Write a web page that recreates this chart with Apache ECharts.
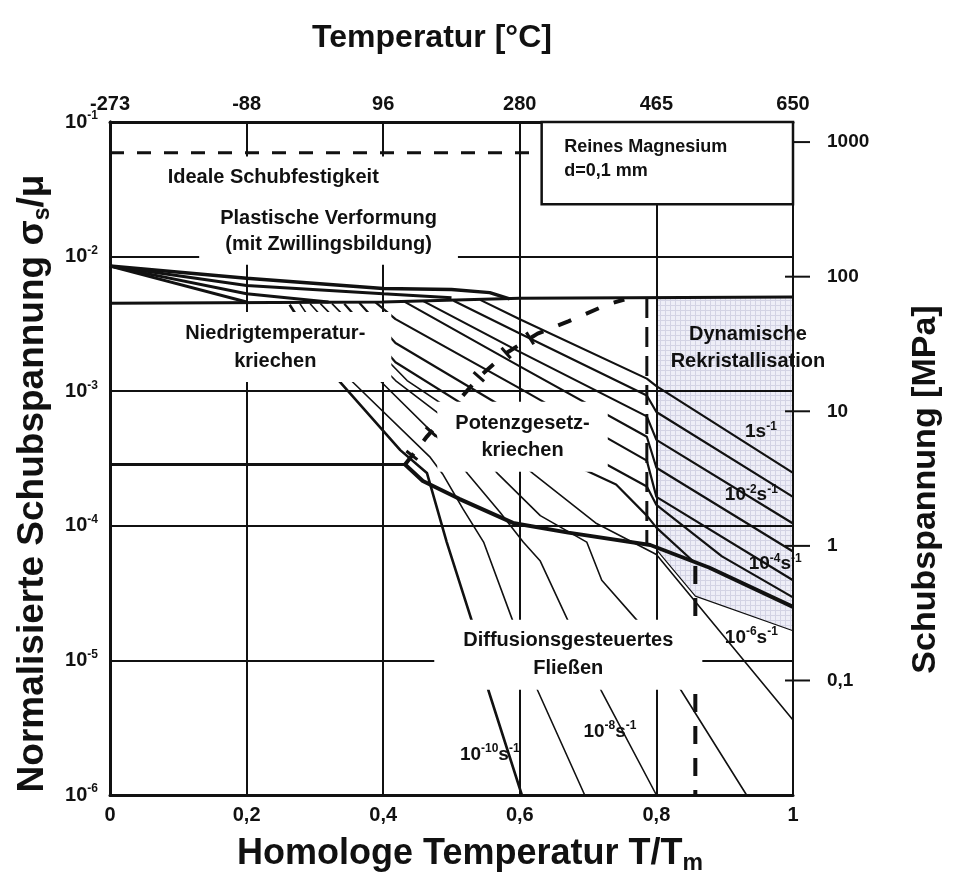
<!DOCTYPE html>
<html>
<head>
<meta charset="utf-8">
<script src="https://cdn.jsdelivr.net/npm/echarts@6/dist/echarts.min.js"></script>
<style>
  html, body { margin: 0; padding: 0; background: #fff; }
  #chart { width: 963px; height: 879px; }
</style>
</head>
<body>
<div id="chart"></div>
<script>
// Deformation mechanism map of pure magnesium (grain size 0.1 mm)
// x: homologous temperature T/Tm, y: normalised shear stress sigma_s/mu

// ---- tick labels ----
const TOP_TICK_LABELS = ['-273', '-88', '96', '280', '465', '650'];
const BOTTOM_TICK_LABELS = ['0', '0,2', '0,4', '0,6', '0,8', '1'];
const MPA_TICKS = [1000, 100, 10, 1, 0.1];
const SHEAR_MODULUS_MPA = 14100;

// ---- field boundaries ----
const idealStrength = [[0, 5.9e-2], [0.632, 5.9e-2]];
const plasticLimit = [[0, 4.5e-3], [0.4, 4.6e-3], [0.6, 4.9e-3], [1, 5.0e-3]];
const lowTempLimit = [[0, 2.85e-4], [0.432, 2.85e-4]];
const lowTempToPowerLaw = [[0.432, 2.85e-4], [0.464, 4.6e-4], [0.542, 1.3e-3], [0.581, 1.93e-3],
  [0.626, 2.68e-3], [0.671, 3.3e-3], [0.728, 4.4e-3], [0.753, 4.8e-3]];
const boundaryCrossings = [[0.442, 3.34e-4], [0.47, 5.0e-4], [0.54, 1.28e-3], [0.58, 1.92e-3], [0.615, 2.47e-3]];
const powerLawToDiffusion = [[0.432, 2.85e-4], [0.458, 2.15e-4], [0.512, 1.58e-4], [0.59, 1.05e-4],
  [0.671, 8.9e-5], [0.791, 7.2e-5], [0.877, 4.9e-5], [1, 2.5e-5]];
const drxLimitUpper = [[0.786, 4.93e-3], [0.786, 7.1e-5]];
const drxLimitLower = [[0.857, 5.03e-5], [0.857, 1.0e-6]];
const drxLowerEdge = [[0.8, 6.65e-5], [0.857, 3.0e-5], [1, 1.66e-5]];
const drxRegion = [[0.8, 4.95e-3], [1, 5.0e-3], [1, 1.66e-5], [0.857, 3.0e-5], [0.8, 6.65e-5]];
const materialBox = [[0.632, 0.1], [1, 0.1], [1, 2.45e-2], [0.632, 2.45e-2]];

// ---- strain-rate contours in the plasticity field ----
const plastic1 = [[0, 8.5e-3], [0.2, 6.9e-3], [0.4, 5.8e-3], [0.5, 5.7e-3], [0.556, 5.4e-3], [0.585, 4.85e-3]];
const plastic2 = [[0, 8.5e-3], [0.2, 6.1e-3], [0.4, 5.3e-3], [0.5, 4.95e-3]];
const plastic3 = [[0, 8.5e-3], [0.2, 5.3e-3], [0.32, 4.6e-3]];
const plastic4 = [[0, 8.5e-3], [0.2, 4.6e-3]];

// ---- strain-rate contours through creep and recrystallisation fields ----
const rateK1 = [[0.542, 4.77e-3], [0.6, 3.43e-3], [0.786, 1.24e-3], [0.8, 1.09e-3], [1, 2.47e-4]];
const rateK2 = [[0.503, 4.69e-3], [0.6, 2.68e-3], [0.786, 9.3e-4], [0.8, 7.0e-4], [1, 1.64e-4]];
const rateK3 = [[0.458, 4.69e-3], [0.6, 1.96e-3], [0.786, 6.5e-4], [0.8, 4.35e-4], [1, 1.04e-4]];
const rateK4 = [[0.429, 4.69e-3], [0.6, 1.53e-3], [0.786, 4.59e-4], [0.8, 2.7e-4], [1, 6.44e-5]];
const rateK5 = [[0.388, 4.61e-3], [0.418, 3.43e-3], [0.6, 1.05e-3], [0.786, 3.05e-4], [0.8, 1.64e-4], [1, 3.94e-5]];
const rateK6 = [[0.365, 4.54e-3], [0.418, 2.28e-3], [0.6, 6.43e-4], [0.786, 1.96e-4], [0.8, 1.43e-4], [0.896, 5.93e-5], [1, 2.94e-5]];
const rateK7 = [[0.343, 4.47e-3], [0.418, 1.64e-3], [0.6, 4.35e-4], [0.741, 2.03e-4], [0.786, 1.19e-4], [0.8, 9.7e-5], [0.853, 5.5e-5]];
const rateL5 = [[0.325, 4.47e-3], [0.435, 1.2e-3], [0.542, 5.19e-4], [0.62, 2.43e-4], [0.711, 1.05e-4], [0.8, 6.12e-5], [1, 3.61e-6]];
const rateL4 = [[0.308, 4.47e-3], [0.418, 1.2e-3], [0.512, 5.19e-4], [0.568, 2.43e-4], [0.63, 1.19e-4], [0.698, 7.57e-5],
  [0.72, 3.94e-5], [0.773, 1.95e-5], [0.836, 6.0e-6], [0.932, 1.0e-6]];
const rateL3 = [[0.293, 4.47e-3], [0.395, 1.2e-3], [0.483, 4.35e-4], [0.524, 2.43e-4], [0.571, 1.26e-4], [0.605, 7.57e-5],
  [0.63, 5.47e-5], [0.671, 1.95e-5], [0.719, 6.0e-6], [0.8, 1.0e-6]];
const rateL2 = [[0.278, 4.47e-3], [0.353, 1.2e-3], [0.469, 3.22e-4], [0.487, 2.43e-4], [0.517, 1.33e-4], [0.547, 7.57e-5],
  [0.59, 1.95e-5], [0.626, 6.0e-6], [0.695, 1.0e-6]];
const rateL1 = [[0.263, 4.39e-3], [0.335, 1.2e-3], [0.425, 3.65e-4], [0.464, 2.47e-4], [0.493, 7.57e-5], [0.53, 1.95e-5],
  [0.554, 6.0e-6], [0.603, 1.0e-6]];

// ---- annotation anchors [T/Tm, sigma/mu] ----
const posIdeal = [0.239, 3.87e-2];
const posPlastic = [0.32, 1.54e-2];
const posLowTemp = [0.242, 2.13e-3];
const posPowerLaw = [0.604, 4.59e-4];
const posDiffusion = [0.671, 1.10e-5];
const posMaterial = [0.665, 5.3e-2];
const posDrx = [0.934, 2.1e-3];
const posRate0 = [0.953, 5.0e-4];
const posRate2 = [0.939, 1.7e-4];
const posRate4 = [0.974, 5.2e-5];
const posRate6 = [0.939, 1.48e-5];
const posRate8 = [0.732, 2.97e-6];
const posRate10 = [0.556, 2.0e-6];

const FONT = '"Liberation Sans", Arial, Helvetica, sans-serif';
const INK = '#111';

function richSet(size) {
  const s = Math.round(size * 0.62);
  return {
    base: { fontSize: size, fontWeight: 'bold', fontFamily: FONT, color: INK, lineHeight: size + 4 },
    sup: { fontSize: s, fontWeight: 'bold', fontFamily: FONT, color: INK, lineHeight: s, verticalAlign: 'top' },
    sub: { fontSize: s, fontWeight: 'bold', fontFamily: FONT, color: INK, lineHeight: s, verticalAlign: 'bottom' }
  };
}

function lineSeries(data, width, z, dash) {
  return {
    type: 'line', data, symbol: 'none', showSymbol: false, silent: true, z: z || 3,
    lineStyle: { color: INK, width: width, type: dash || 'solid', cap: 'butt', opacity: 1 },
    emphasis: { disabled: true }
  };
}

function polygonSeries(points, style, z) {
  return {
    type: 'custom', silent: true, z, data: [points[0]],
    renderItem: (params, api) => ({
      type: 'polygon',
      shape: { points: points.map(p => api.coord(p)) },
      style
    })
  };
}

function textSeries(pos, text, opt) {
  return {
    type: 'scatter', silent: true, z: 10, symbolSize: 0, data: [pos],
    itemStyle: { opacity: 1 },
    label: {
      show: true, position: opt.position || 'inside', distance: 0, opacity: 1,
      formatter: () => text,
      fontFamily: FONT, fontWeight: 'bold', color: INK,
      fontSize: opt.size || 20, lineHeight: opt.lineHeight || 24,
      align: opt.align || 'center',
      backgroundColor: opt.bg || 'transparent',
      padding: opt.padding || 0,
      rich: opt.rich
    },
    emphasis: { disabled: true }
  };
}

// short bars drawn across a boundary, perpendicular to its local direction
function crossingTicks(points, boundary, halfLen) {
  return {
    type: 'custom', silent: true, z: 5, data: points,
    renderItem: (params, api) => {
      const x = api.value(0), y = api.value(1);
      let i = 0;
      while (i < boundary.length - 2 && boundary[i + 1][0] < x) i++;
      const a = api.coord(boundary[i]), b = api.coord(boundary[i + 1]);
      const dx = b[0] - a[0], dy = b[1] - a[1];
      const len = Math.hypot(dx, dy) || 1;
      const nx = -dy / len, ny = dx / len;
      const p = api.coord([x, y]);
      return {
        type: 'line',
        shape: { x1: p[0] - nx * halfLen, y1: p[1] - ny * halfLen, x2: p[0] + nx * halfLen, y2: p[1] + ny * halfLen },
        style: { stroke: INK, lineWidth: 3 }
      };
    }
  };
}

// fine grid pattern used for the dynamic recrystallisation field
const tile = document.createElement('canvas');
tile.width = 5; tile.height = 5;
const tg = tile.getContext('2d');
tg.fillStyle = '#eeeef7'; tg.fillRect(0, 0, 5, 5);
tg.fillStyle = '#d3d3e4'; tg.fillRect(0, 0, 5, 1); tg.fillRect(0, 0, 1, 5);

const rateRich = richSet(19);

const chart = echarts.init(document.getElementById('chart'), null, { renderer: 'canvas' });
chart.setOption({
  animation: false,
  backgroundColor: '#fff',
  grid: { left: 110, right: 170, top: 122, bottom: 84, containLabel: false, outerBoundsMode: 'none' },
  xAxis: [
    {
      type: 'value', position: 'bottom', min: 0, max: 1, interval: 0.2, z: 1,
      axisLine: { show: true, lineStyle: { color: INK, width: 3 } },
      axisTick: { show: false },
      splitLine: { show: true, lineStyle: { color: INK, width: 2 } },
      axisLabel: {
        margin: 10, fontFamily: FONT, fontWeight: 'bold', fontSize: 20, color: INK,
        formatter: v => BOTTOM_TICK_LABELS[Math.round(v / 0.2)]
      },
      name: '{n|Homologe Temperatur T/T}{sub|m}',
      nameLocation: 'middle', nameGap: 38, nameMoveOverlap: false,
      nameTextStyle: {
        padding: [0, 0, 0, 37],
        rich: {
          n: { fontSize: 36, fontWeight: 'bold', fontFamily: FONT, color: INK, lineHeight: 42 },
          sub: { fontSize: 23, fontWeight: 'bold', fontFamily: FONT, color: INK, lineHeight: 23, verticalAlign: 'bottom' }
        }
      }
    },
    {
      type: 'value', position: 'top', min: 0, max: 1, interval: 0.2, z: 1,
      axisLine: { show: true, lineStyle: { color: INK, width: 3 } },
      axisTick: { show: false },
      splitLine: { show: false },
      axisLabel: {
        margin: 8, fontFamily: FONT, fontWeight: 'bold', fontSize: 20, color: INK,
        formatter: v => TOP_TICK_LABELS[Math.round(v / 0.2)]
      },
      name: 'Temperatur [°C]',
      nameLocation: 'middle', nameGap: 68, nameMoveOverlap: false,
      nameTextStyle: { fontFamily: FONT, fontWeight: 'bold', fontSize: 32, color: INK, padding: [0, 39, 0, 0] }
    }
  ],
  yAxis: [
    {
      type: 'log', logBase: 10, min: 1e-6, max: 1e-1, position: 'left', z: 1,
      axisLine: { show: true, lineStyle: { color: INK, width: 3 } },
      axisTick: { show: false },
      splitLine: { show: true, lineStyle: { color: INK, width: 2 } },
      axisLabel: {
        margin: 12,
        formatter: v => '{base|10}{sup|' + Math.round(Math.log10(v)) + '}',
        rich: richSet(20)
      },
      name: '{n|Normalisierte Schubspannung σ}{sub|s}{n|/μ}',
      nameLocation: 'middle', nameRotate: 90, nameGap: 56, nameMoveOverlap: false,
      nameTextStyle: {
        padding: [0, 50, 0, 0],
        rich: {
          n: { fontSize: 37, fontWeight: 'bold', fontFamily: FONT, color: INK, lineHeight: 42 },
          sub: { fontSize: 23, fontWeight: 'bold', fontFamily: FONT, color: INK, lineHeight: 23, verticalAlign: 'bottom' }
        }
      }
    },
    {
      type: 'log', logBase: 10, position: 'right', z: 1,
      min: SHEAR_MODULUS_MPA * 1e-6, max: SHEAR_MODULUS_MPA * 1e-1,
      axisLine: { show: true, lineStyle: { color: INK, width: 3 } },
      axisTick: { show: false },
      splitLine: { show: false },
      axisLabel: {
        customValues: MPA_TICKS, margin: 34,
        fontFamily: FONT, fontWeight: 'bold', fontSize: 19, color: INK,
        formatter: v => (v >= 1 ? String(Math.round(v)) : v.toFixed(1).replace('.', ','))
      },
      name: 'Schubspannung [MPa]',
      nameLocation: 'middle', nameRotate: 90, nameGap: 116, nameMoveOverlap: false,
      nameTextStyle: { fontFamily: FONT, fontWeight: 'bold', fontSize: 34, color: INK, padding: [0, 62, 0, 0] }
    }
  ],
  series: [
    // fields
    polygonSeries(drxRegion, { fill: { image: tile, repeat: 'repeat' }, stroke: 'none' }, 0),
    polygonSeries(materialBox, { fill: '#fff', stroke: INK, lineWidth: 2.5 }, 9),

    // stress ticks of the MPa scale, placed on the right frame
    {
      type: 'custom', silent: true, z: 5, yAxisIndex: 1,
      data: MPA_TICKS.map(v => [1, v]),
      renderItem: (params, api) => {
        const p = api.coord([api.value(0), api.value(1)]);
        return {
          type: 'line',
          shape: { x1: p[0] - 8, y1: p[1], x2: p[0] + 17, y2: p[1] },
          style: { stroke: INK, lineWidth: 2 }
        };
      }
    },

    // plasticity contours
    lineSeries(plastic1, 3.5, 3), lineSeries(plastic2, 3, 3),
    lineSeries(plastic3, 3, 3), lineSeries(plastic4, 3, 3),

    // strain-rate contours
    lineSeries(rateK1, 2.2), lineSeries(rateK2, 2.2), lineSeries(rateK3, 2.2), lineSeries(rateK4, 2.2),
    lineSeries(rateK5, 2.2), lineSeries(rateK6, 2.2), lineSeries(rateK7, 2.2),
    lineSeries(rateL5, 1.6), lineSeries(rateL4, 1.6), lineSeries(rateL3, 1.6),
    lineSeries(rateL2, 1.6), lineSeries(rateL1, 2.6),

    // boundaries
    lineSeries(idealStrength, 3, 4, [14, 13]),
    lineSeries(plasticLimit, 3, 4),
    lineSeries(lowTempLimit, 3, 4),
    lineSeries(lowTempToPowerLaw, 4, 4, [14, 16]),
    crossingTicks(boundaryCrossings, lowTempToPowerLaw, 7),
    lineSeries(powerLawToDiffusion, 4, 4),
    lineSeries(drxLimitUpper, 3, 4, [20, 9]),
    lineSeries(drxLimitLower, 4, 4, [18, 14]),
    lineSeries(drxLowerEdge, 1.2, 4),

    // field names
    textSeries(posIdeal, 'Ideale Schubfestigkeit', { size: 20, lineHeight: 24, bg: '#fff', padding: [9, 14, 9, 14] }),
    textSeries(posPlastic, 'Plastische Verformung\n(mit Zwillingsbildung)', { size: 20, lineHeight: 26, bg: '#fff', padding: [8, 21, 7, 21] }),
    textSeries(posLowTemp, 'Niedrigtemperatur-\nkriechen', { size: 20, lineHeight: 28, bg: '#fff', padding: [7, 26, 7, 26] }),
    textSeries(posPowerLaw, 'Potenzgesetz-\nkriechen', { size: 20, lineHeight: 27, bg: '#fff', padding: [8, 18, 8, 18] }),
    textSeries(posDiffusion, 'Diffusionsgesteuertes\nFließen', { size: 20, lineHeight: 28, bg: '#fff', padding: [7, 29, 7, 29] }),
    textSeries(posDrx, 'Dynamische\nRekristallisation', { size: 20, lineHeight: 27 }),
    textSeries(posMaterial, 'Reines Magnesium\nd=0,1 mm', { size: 18, lineHeight: 24, position: 'right', align: 'left' }),

    // strain-rate labels
    textSeries(posRate0, '{base|1s}{sup|-1}', { rich: rateRich }),
    textSeries(posRate2, '{base|10}{sup|-2}{base|s}{sup|-1}', { rich: rateRich }),
    textSeries(posRate4, '{base|10}{sup|-4}{base|s}{sup|-1}', { rich: rateRich }),
    textSeries(posRate6, '{base|10}{sup|-6}{base|s}{sup|-1}', { rich: rateRich }),
    textSeries(posRate8, '{base|10}{sup|-8}{base|s}{sup|-1}', { rich: rateRich }),
    textSeries(posRate10, '{base|10}{sup|-10}{base|s}{sup|-1}', { rich: rateRich })
  ]
});
</script>
</body>
</html>
